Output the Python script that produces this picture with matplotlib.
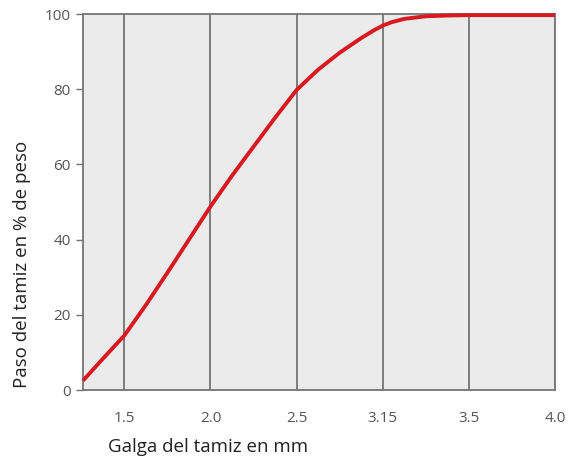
import numpy as np
import matplotlib.pyplot as plt

# Galga del tamiz (categorias equiespaciadas) y curva de paso
galgas = ["1.5", "2.0", "2.5", "3.15", "3.5", "4.0"]
pos_curva = [-0.48, -0.25, 0.0, 0.25, 0.5, 0.75, 1.0, 1.25, 1.5, 1.75,
             2.0, 2.25, 2.5, 2.75, 2.9, 3.0, 3.1, 3.25, 3.5, 3.75, 4.0, 5.0]
paso = [2.5, 8.3, 14.5, 22.6, 31.2, 40.0, 48.8, 57.0, 64.7, 72.4,
        79.8, 85.2, 89.7, 93.6, 95.7, 96.9, 97.8, 98.7, 99.4, 99.6, 99.7, 99.7]
yticks = [0, 20, 40, 60, 80, 100]

plt.rcParams['font.family'] = ['Open Sans', 'DejaVu Sans']

fig = plt.figure(figsize=(5.79, 4.59), dpi=100)
ax = fig.add_axes([83 / 579, 69 / 459, 472 / 579, 376 / 459])
ax.set_facecolor('#ebebeb')

x = np.arange(len(galgas))
for xi in x:
    ax.axvline(xi, color='#747474', lw=1.3, zorder=1)

ax.plot(pos_curva, paso, color='#d71920', lw=2.8, solid_capstyle='butt',
        solid_joinstyle='round', zorder=3, clip_on=False)

ax.set_xlim(-0.48, 5)
ax.set_ylim(0, 100)
ax.set_xticks(x)
ax.set_xticklabels(galgas)
ax.set_yticks(yticks)
ax.tick_params(axis='x', length=0, pad=15, labelsize=11, labelcolor='#555555')
ax.tick_params(axis='y', length=5, width=1, color='#747474', pad=4,
               labelsize=11, labelcolor='#555555')
for s in ax.spines.values():
    s.set_color('#747474')
    s.set_linewidth(1.3)

fig.text(108 / 579, 1 - 447 / 459, "Galga del tamiz en mm", ha='left',
         va='center', fontsize=13.5, color='#222222')
fig.text(22 / 579, 1 - 264 / 459, "Paso del tamiz en % de peso", ha='center',
         va='center', rotation=90, fontsize=13.5, color='#222222')

fig.savefig('out.png', dpi=100)
